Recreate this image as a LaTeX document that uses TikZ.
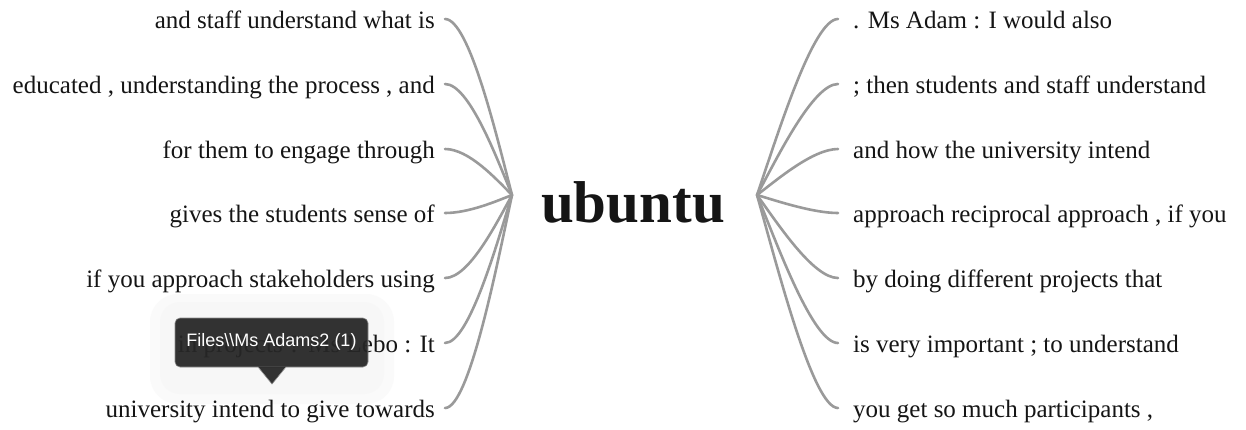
\documentclass[tikz,border=0pt]{standalone}
\usepackage{fontspec}
\setmainfont{Liberation Serif}
\newfontfamily\tipfont{Liberation Sans}
\definecolor{linkgray}{HTML}{9A9A9A}
\definecolor{txtdark}{HTML}{151515}
\definecolor{tipbg}{HTML}{262626}
\begin{document}
\begin{tikzpicture}[x=1pt,y=-1pt,
  link/.style={draw=linkgray, line width=2.6pt, line cap=round},
  ltext/.style={anchor=base east, inner sep=0pt, text=txtdark, font=\fontsize{25}{29}\selectfont},
  rtext/.style={anchor=base west, inner sep=0pt, text=txtdark, font=\fontsize{25}{29}\selectfont},
  hubtext/.style={inner sep=0pt, text=txtdark, font=\fontsize{59}{64}\selectfont\bfseries},
  tipbox/.style={fill=tipbg, draw=black!45, line width=0.6pt, rounded corners=5pt, fill opacity=0.94},
  tiptext/.style={text=white, inner sep=0pt, font=\tipfont\fontsize{18}{22}\selectfont}]
\useasboundingbox (0,0) rectangle (1246,429);
\fill[white] (0,0) rectangle (1246,429);
% soft halo around tooltip
\fill[black!2, rounded corners=28pt] (150,294) rectangle (394,404);
\fill[black!3, rounded corners=20pt] (160,302) rectangle (384,394);
% hub
\node[hubtext, anchor=base] (hub) at (633,222) {ubuntu};
\coordinate (lhub) at (512,195);
\coordinate (rhub) at (757,195);
% left side
\foreach \i/\y/\t in {1/19/{and staff understand what is},
                       2/84/{educated , understanding the process , and},
                       3/149/{for them to engage through},
                       4/213/{gives the students sense of},
                       5/278/{if you approach stakeholders using},
                       6/343/{in projects ? Ms Lebo : It},
                       7/408/{university intend to give towards}}{
  \node[ltext] (l\i) at (435,\y+9) {\t};
  \coordinate (lc\i) at (445,\y);
  \draw[link] (lc\i) .. controls (469,\y) and (496.5,{195+0.34*(\y-195)}) .. (lhub);
}
% right side
\foreach \i/\y/\t in {1/19/{. Ms Adam : I would also},
                       2/84/{; then students and staff understand},
                       3/149/{and how the university intend},
                       4/213/{approach reciprocal approach , if you},
                       5/278/{by doing different projects that},
                       6/343/{is very important ; to understand},
                       7/408/{you get so much participants ,}}{
  \node[rtext] (r\i) at (853,\y+9) {\t};
  \coordinate (rc\i) at (838,\y);
  \draw[link] (rc\i) .. controls (813,\y) and (777.5,{195+0.34*(\y-195)}) .. (rhub);
}
% tooltip
\fill[tipbox] (175,318) rectangle (368,367);
\fill[tipbg, fill opacity=0.94] (258,366.5) -- (286,366.5) -- (272,384) -- cycle;
\draw[black!45, line width=0.6pt] (258,367) -- (272,384) -- (286,367);
\node[tiptext] (tip) at (271.5,342) {Files\textbackslash\textbackslash Ms Adams2 (1)};
\end{tikzpicture}
\end{document}
